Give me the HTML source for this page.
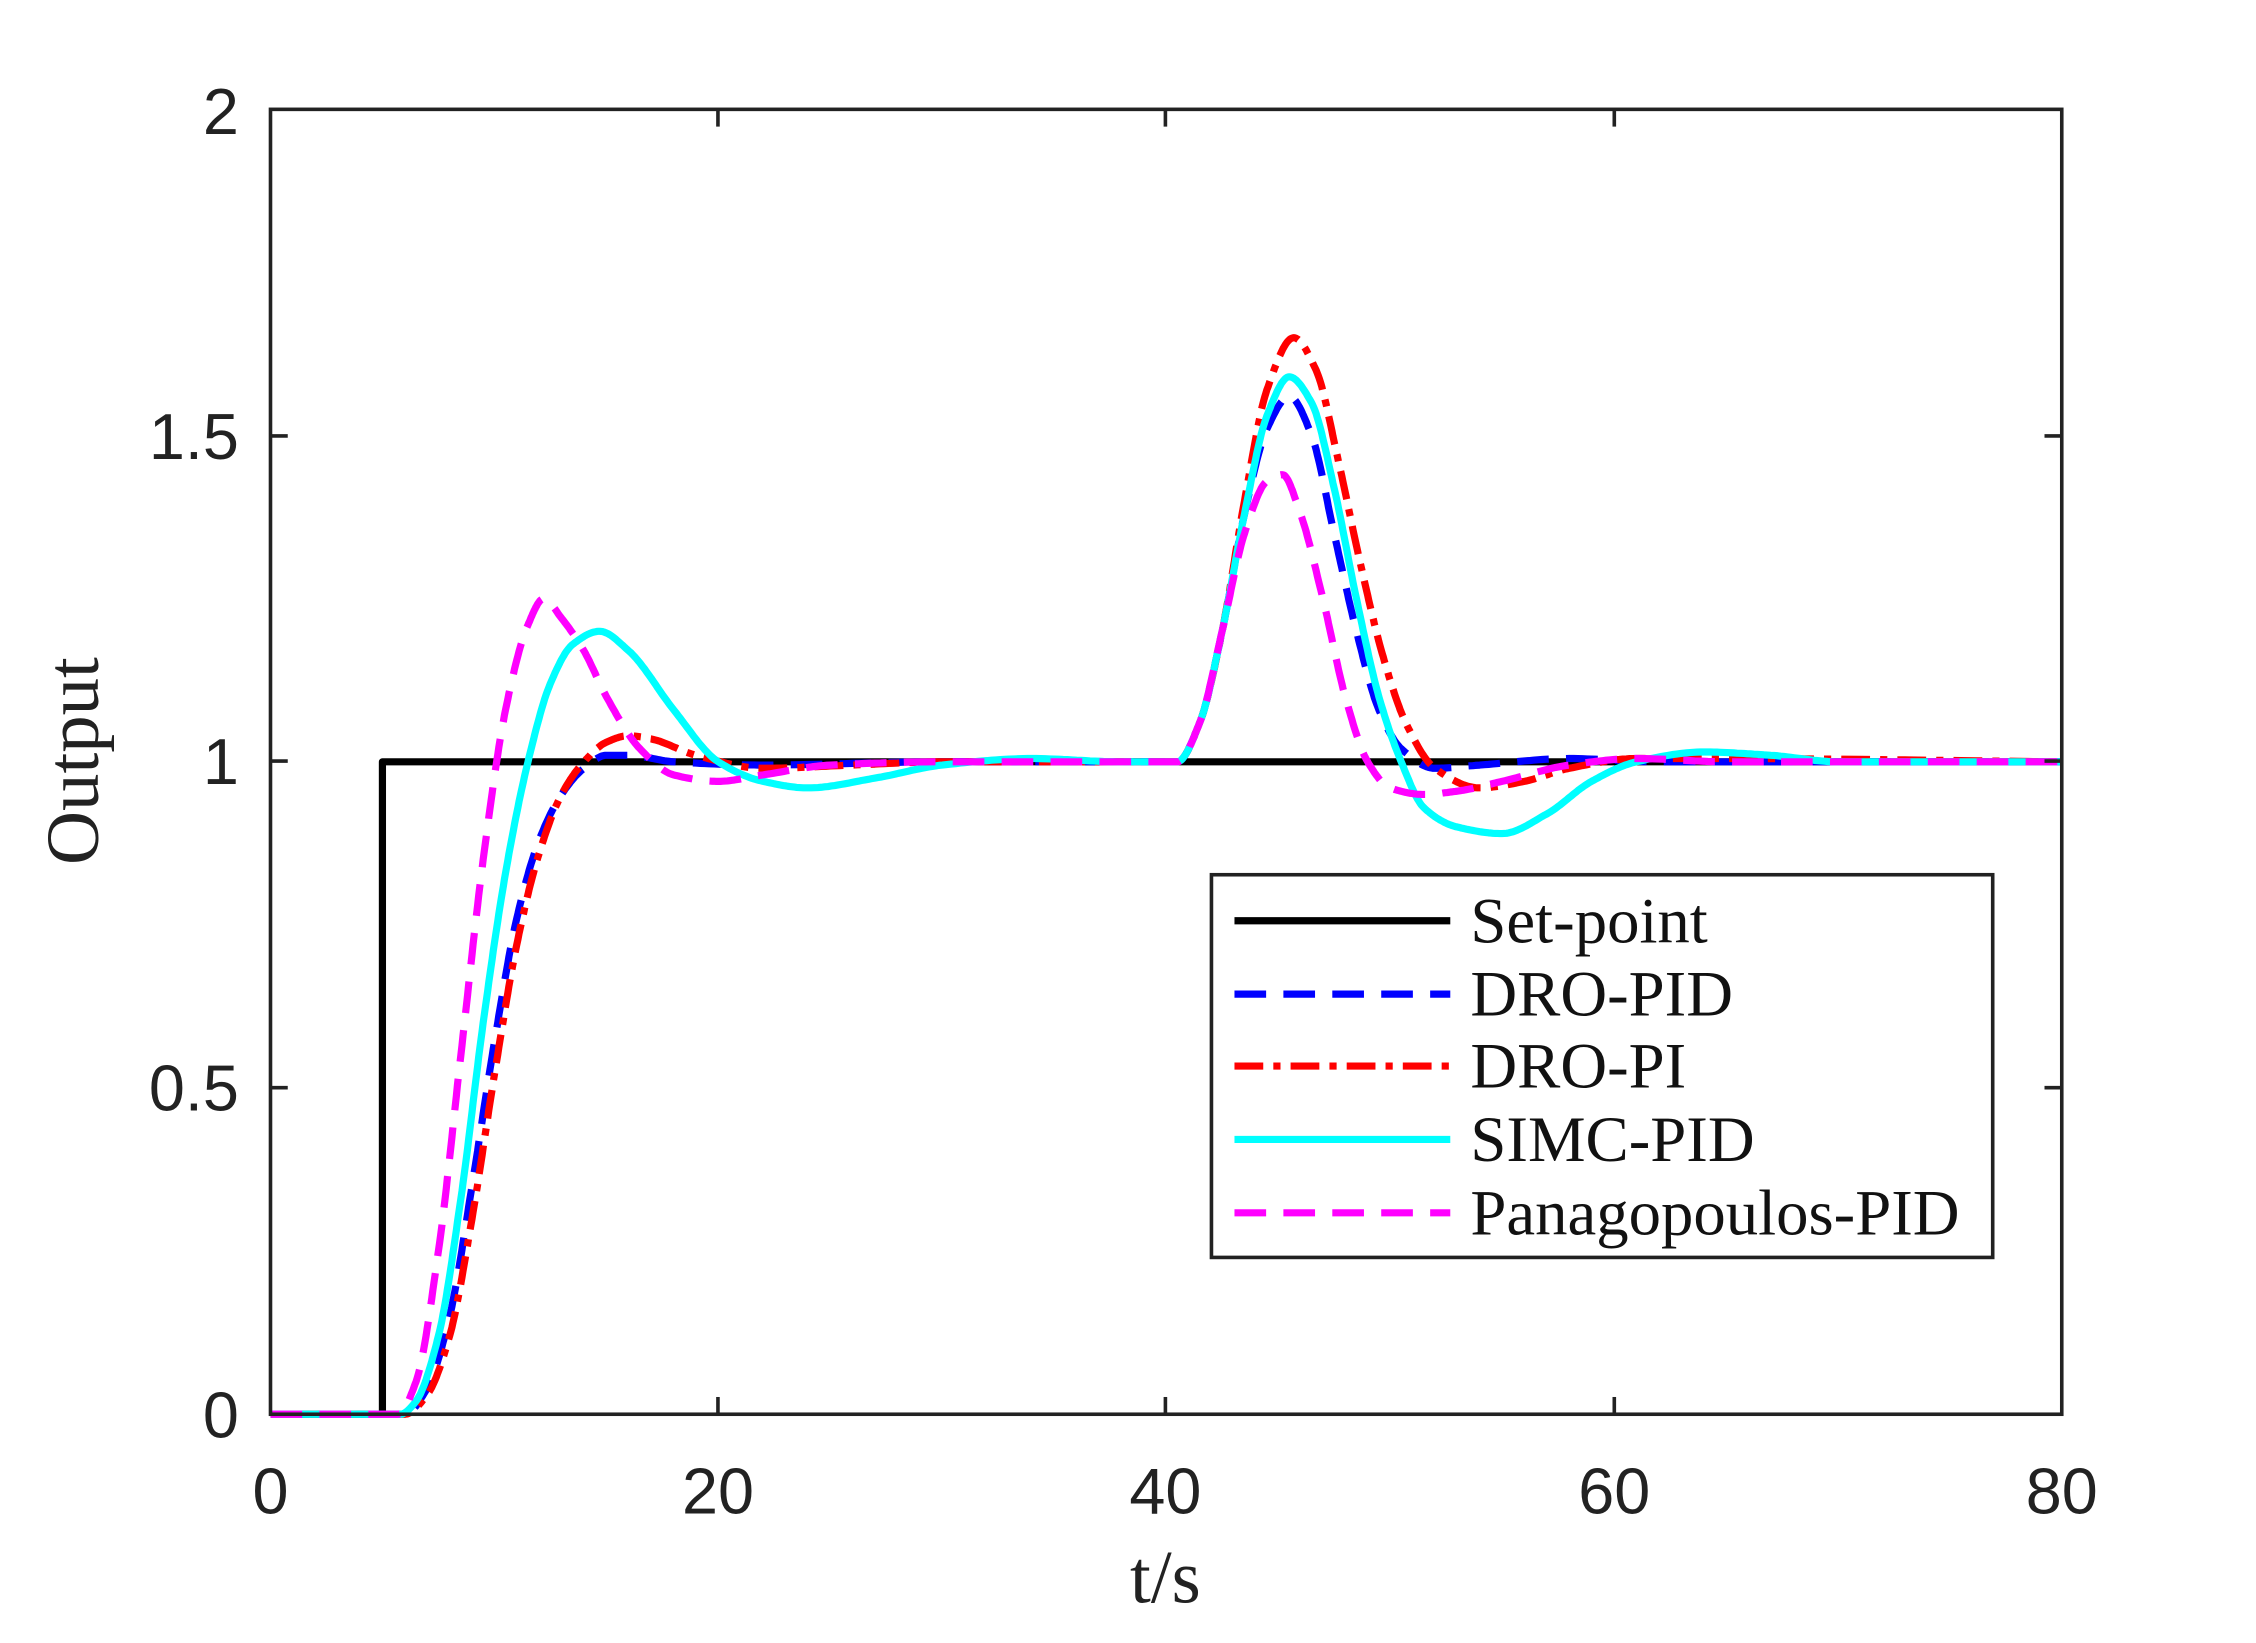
<!DOCTYPE html>
<html><head><meta charset="utf-8"><style>
html,body{margin:0;padding:0;background:#fff;}
svg{display:block;}
.tk{font-family:"Liberation Sans",sans-serif;font-size:45px;fill:#222;}
.lb{font-family:"Liberation Serif",serif;font-size:52px;fill:#222;}
.lg{font-family:"Liberation Serif",serif;font-size:45px;fill:#111;}
</style></head><body>
<svg id="s" width="2256" height="1643" viewBox="0 0 1568 1142" preserveAspectRatio="none" xmlns="http://www.w3.org/2000/svg">
<rect x="0" y="0" width="1568" height="1142" fill="#fff"/>
<g id="curves"></g>
<rect x="188" y="76" width="1245" height="907" fill="none" stroke="#222" stroke-width="2.5"/>
<g stroke="#222" stroke-width="2.5">
<line x1="499" y1="983" x2="499" y2="971"/><line x1="810" y1="983" x2="810" y2="971"/><line x1="1122" y1="983" x2="1122" y2="971"/>
<line x1="499" y1="76" x2="499" y2="88"/><line x1="810" y1="76" x2="810" y2="88"/><line x1="1122" y1="76" x2="1122" y2="88"/>
<line x1="188" y1="756" x2="200" y2="756"/><line x1="188" y1="529" x2="200" y2="529"/><line x1="188" y1="303" x2="200" y2="303"/>
<line x1="1433" y1="756" x2="1421" y2="756"/><line x1="1433" y1="529" x2="1421" y2="529"/><line x1="1433" y1="303" x2="1421" y2="303"/>
</g>
<g class="tk" text-anchor="middle">
<text x="188" y="1052">0</text><text x="499" y="1052">20</text><text x="810" y="1052">40</text><text x="1122" y="1052">60</text><text x="1433" y="1052">80</text>
</g>
<g class="tk" text-anchor="end">
<text x="166" y="999">0</text><text x="166" y="772">0.5</text><text x="166" y="545">1</text><text x="166" y="319">1.5</text><text x="166" y="93">2</text>
</g>
<text class="lb" x="810" y="1114" text-anchor="middle">t/s</text>
<text class="lb" x="0" y="0" text-anchor="middle" transform="translate(68,529) rotate(-90)">Output</text>
<rect x="842" y="608" width="543" height="266" fill="#fff" stroke="#222" stroke-width="2.5"/>
<g stroke-width="5" fill="none">
<line x1="858" y1="640" x2="1008" y2="640" stroke="#000"/>
<line x1="858" y1="691" x2="1008" y2="691" stroke="#0000ff" stroke-dasharray="22,12"/>
<line x1="858" y1="741" x2="1008" y2="741" stroke="#ff0000" stroke-dasharray="20,7,5,7"/>
<line x1="858" y1="792" x2="1008" y2="792" stroke="#00ffff"/>
<line x1="858" y1="843" x2="1008" y2="843" stroke="#ff00ff" stroke-dasharray="22,12"/>
</g>
<g class="lg">
<text x="1022" y="655">Set-point</text><text x="1022" y="706">DRO-PID</text><text x="1022" y="756">DRO-PI</text><text x="1022" y="807">SIMC-PID</text><text x="1022" y="858">Panagopoulos-PID</text>
</g>
</svg>
<script>
function X(t){return 188+t*15.5625;}function Y(v){return 983-v*453.5;}
function mono(pts){var n=pts.length,xs=pts.map(function(p){return p[0]}),ys=pts.map(function(p){return p[1]});
var d=[],m=[];for(var i=0;i<n-1;i++)d.push((ys[i+1]-ys[i])/(xs[i+1]-xs[i]));
m[0]=d[0];m[n-1]=d[n-2];for(i=1;i<n-1;i++){if(d[i-1]*d[i]<=0)m[i]=0;else{var w1=2*(xs[i+1]-xs[i])+(xs[i]-xs[i-1]),w2=(xs[i+1]-xs[i])+2*(xs[i]-xs[i-1]);m[i]=(w1+w2)/(w1/d[i-1]+w2/d[i]);}}
var s="";for(i=0;i<n-1;i++){var h=xs[i+1]-xs[i];for(var k=0;k<=20;k++){if(i>0&&k==0)continue;var u=k/20,t=xs[i]+u*h;
var h00=2*u*u*u-3*u*u+1,h10=u*u*u-2*u*u+u,h01=-2*u*u*u+3*u*u,h11=u*u*u-u*u;
var v=h00*ys[i]+h10*h*m[i]+h01*ys[i+1]+h11*h*m[i+1];s+=(s?"L":"M")+X(t).toFixed(1)+","+Y(v).toFixed(1);}}return s;}
var S={
simc:[[0,0],[5.8,0],[6.5,0.02],[7.5,0.12],[8.5,0.33],[9.5,0.6],[10.5,0.83],[11.5,1.0],[12.5,1.12],[13.5,1.18],[14.7,1.2],[16,1.17],[18,1.08],[20,1.0],[22,0.97],[24,0.96],[27,0.975],[30,0.995],[34,1.005],[38,1.0],[40.5,1.0],[41.5,1.06],[42.5,1.2],[43.5,1.38],[44.5,1.53],[45.5,1.59],[46.5,1.55],[47.5,1.42],[48.5,1.25],[49.5,1.1],[50.5,1.0],[51.5,0.93],[53,0.9],[55,0.89],[57,0.92],[59,0.97],[61,1.0],[64,1.015],[67,1.01],[70,1.0],[80,1.0]],
pid:[[0,0],[6,0],[7,0.04],[8,0.15],[9,0.35],[10,0.57],[11,0.76],[12,0.88],[13,0.95],[14,0.99],[15,1.01],[16,1.01],[18,1.0],[22,0.995],[30,1.0],[40.5,1.0],[41.5,1.06],[42.5,1.2],[43.5,1.38],[44.5,1.51],[45.5,1.56],[46.5,1.5],[47.5,1.35],[48.5,1.2],[49.5,1.08],[50.5,1.02],[52,0.99],[54,0.995],[58,1.005],[62,1.0],[80,1]],
pi:[[0,0],[6,0],[7,0.03],[8,0.12],[9,0.3],[10,0.52],[11,0.72],[12,0.86],[13,0.95],[14,1.0],[15,1.03],[16,1.04],[17,1.035],[19,1.01],[22,0.99],[26,0.995],[30,1.0],[40.5,1.0],[41.5,1.06],[42.5,1.2],[43.5,1.4],[44.5,1.57],[45.7,1.65],[46.7,1.6],[47.7,1.46],[48.7,1.3],[49.7,1.16],[50.7,1.06],[52,0.99],[54,0.96],[56,0.97],[58,0.99],[61,1.005],[65,1.005],[80,1]],
pan:[[0,0],[5.7,0],[6.5,0.05],[7.5,0.25],[8.5,0.55],[9.5,0.85],[10.5,1.08],[11.5,1.21],[12.2,1.25],[13,1.22],[14,1.17],[15,1.1],[16.5,1.02],[18,0.98],[20,0.97],[22,0.98],[25,0.995],[30,1.0],[40.5,1.0],[41.5,1.06],[42.5,1.2],[43.5,1.35],[44.5,1.43],[45.2,1.44],[46,1.38],[47,1.25],[48,1.1],[49,1.0],[50,0.96],[51.5,0.95],[53,0.955],[55,0.97],[58,0.995],[61,1.005],[65,1.0],[80,1]]};
var g=document.getElementById("curves"),ns="http://www.w3.org/2000/svg";
function add(d,c,da){var e=document.createElementNS(ns,"path");e.setAttribute("d",d);e.setAttribute("fill","none");e.setAttribute("stroke",c);e.setAttribute("stroke-width","5");e.setAttribute("stroke-linejoin","round");if(da)e.setAttribute("stroke-dasharray",da);g.appendChild(e);}
add("M188,983 L265.8,983 L265.8,529.5 L1433,529.5","#000");
add(mono(S.pid),"#0000ff","22,12");
add(mono(S.pi),"#ff0000","20,7,5,7");
add(mono(S.simc),"#00ffff");
add(mono(S.pan),"#ff00ff","22,12");
</script>
</body></html>
